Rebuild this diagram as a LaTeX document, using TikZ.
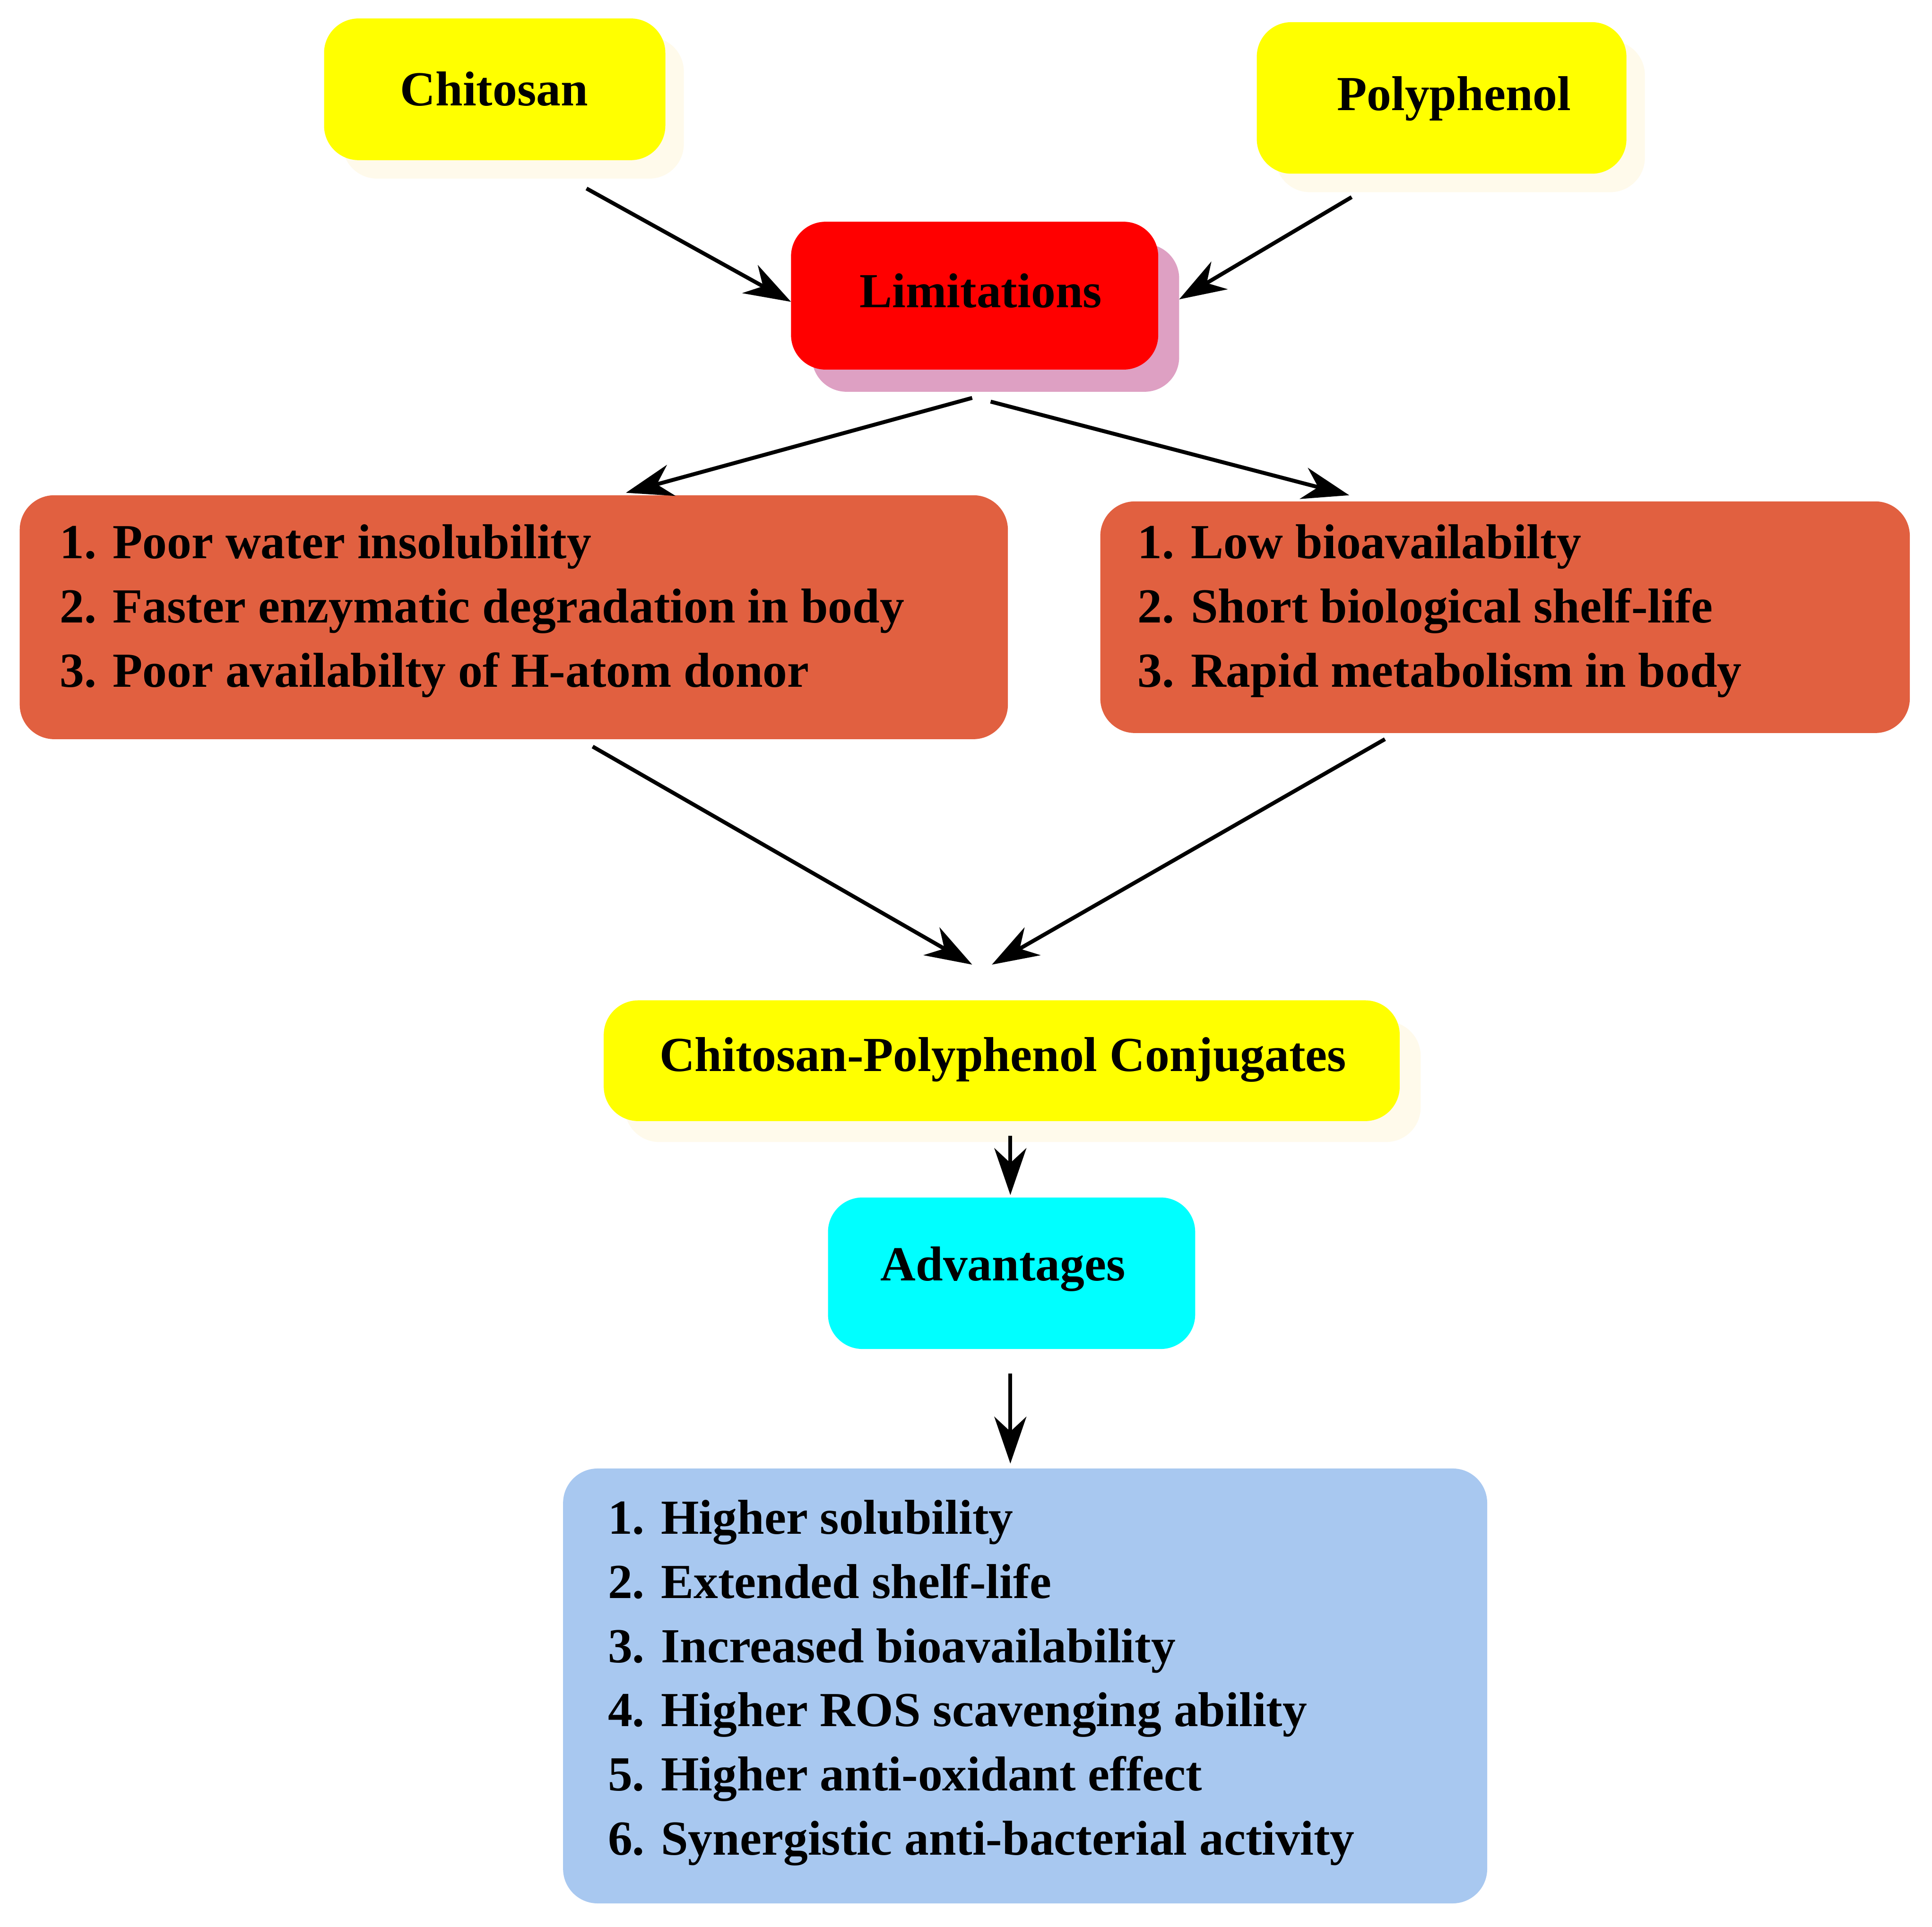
\documentclass[tikz,border=0pt]{standalone}
\usepackage{fontspec}
\setmainfont{Liberation Serif}
\usetikzlibrary{arrows.meta}
\definecolor{ylw}{RGB}{255,255,0}
\definecolor{cream}{RGB}{255,250,235}
\definecolor{pinksh}{RGB}{222,160,195}
\definecolor{orng}{RGB}{225,96,64}
\definecolor{cyn}{RGB}{0,255,255}
\definecolor{blu}{RGB}{168,200,240}
\begin{document}
\begin{tikzpicture}[x=0.01cm,y=-0.01cm,
  bx/.style={rounded corners=0.28cm,draw=none},
  lbl/.style={font=\fontsize{11.3}{14.8}\selectfont\bfseries},
  lst/.style={font=\fontsize{11.3}{14.8}\selectfont\bfseries,align=left,anchor=west},
  arr/.style={line width=0.9pt,-{Stealth[length=0.38cm,width=0.26cm,inset=0.12cm]}}]
\useasboundingbox (0,0) rectangle (1568,1564);
% shadows
\fill[cream,rounded corners=0.28cm] (278,30) rectangle (555,145);
\fill[cream,rounded corners=0.28cm] (1035,33) rectangle (1335,156);
\fill[pinksh,rounded corners=0.28cm] (659,198) rectangle (957,318);
\fill[cream,rounded corners=0.28cm] (507,829) rectangle (1153,927);
% boxes
\fill[ylw,bx] (263,15) rectangle (540,130);
\node[lbl] (chi) at (401,72) {Chitosan};
\fill[ylw,bx] (1020,18) rectangle (1320,141);
\node[lbl] (poly) at (1180,80) {Polyphenol};
\fill[red,bx] (642,180) rectangle (940,300);
\node[lbl] (lim) at (796,236) {Limitations};
\fill[orng,bx] (16,402) rectangle (818,600);
\node[lst] (l1) at (36,496) {1. Poor water insolubility\\2. Faster enzymatic degradation in body\\3. Poor availabilty of H-atom donor};
\fill[orng,bx] (893,407) rectangle (1550,595);
\node[lst] (l2) at (911,496) {1. Low bioavailabilty\\2. Short biological shelf-life\\3. Rapid metabolism in body};
\fill[ylw,bx] (490,812) rectangle (1136,910);
\node[lbl] (con) at (814,860) {Chitosan-Polyphenol Conjugates};
\fill[cyn,bx] (672,972) rectangle (970,1095);
\node[lbl] (adv) at (814,1030) {Advantages};
\fill[blu,bx] (457,1192) rectangle (1207,1545);
\node[lst] (l3) at (481,1366) {1. Higher solubility\\2. Extended shelf-life\\3. Increased bioavailability\\4. Higher ROS scavenging ability\\5. Higher anti-oxidant effect\\6. Synergistic anti-bacterial activity};
% arrow endpoints
\coordinate (a1s) at (476,153); \coordinate (a1e) at (642,245);
\coordinate (a2s) at (1097,160); \coordinate (a2e) at (957,243);
\coordinate (a3s) at (789,323); \coordinate (a3e) at (508,400);
\coordinate (a4s) at (804,326); \coordinate (a4e) at (1095,402);
\coordinate (a5s) at (481,606); \coordinate (a5e) at (789,783);
\coordinate (a6s) at (1124,600); \coordinate (a6e) at (805,783);
\coordinate (a7s) at (820,922); \coordinate (a7e) at (820,970);
\coordinate (a8s) at (820,1115); \coordinate (a8e) at (820,1188);
\draw[arr] (a1s) -- (a1e);
\draw[arr] (a2s) -- (a2e);
\draw[arr] (a3s) -- (a3e);
\draw[arr] (a4s) -- (a4e);
\draw[arr] (a5s) -- (a5e);
\draw[arr] (a6s) -- (a6e);
\draw[arr] (a7s) -- (a7e);
\draw[arr] (a8s) -- (a8e);
\end{tikzpicture}
\end{document}
